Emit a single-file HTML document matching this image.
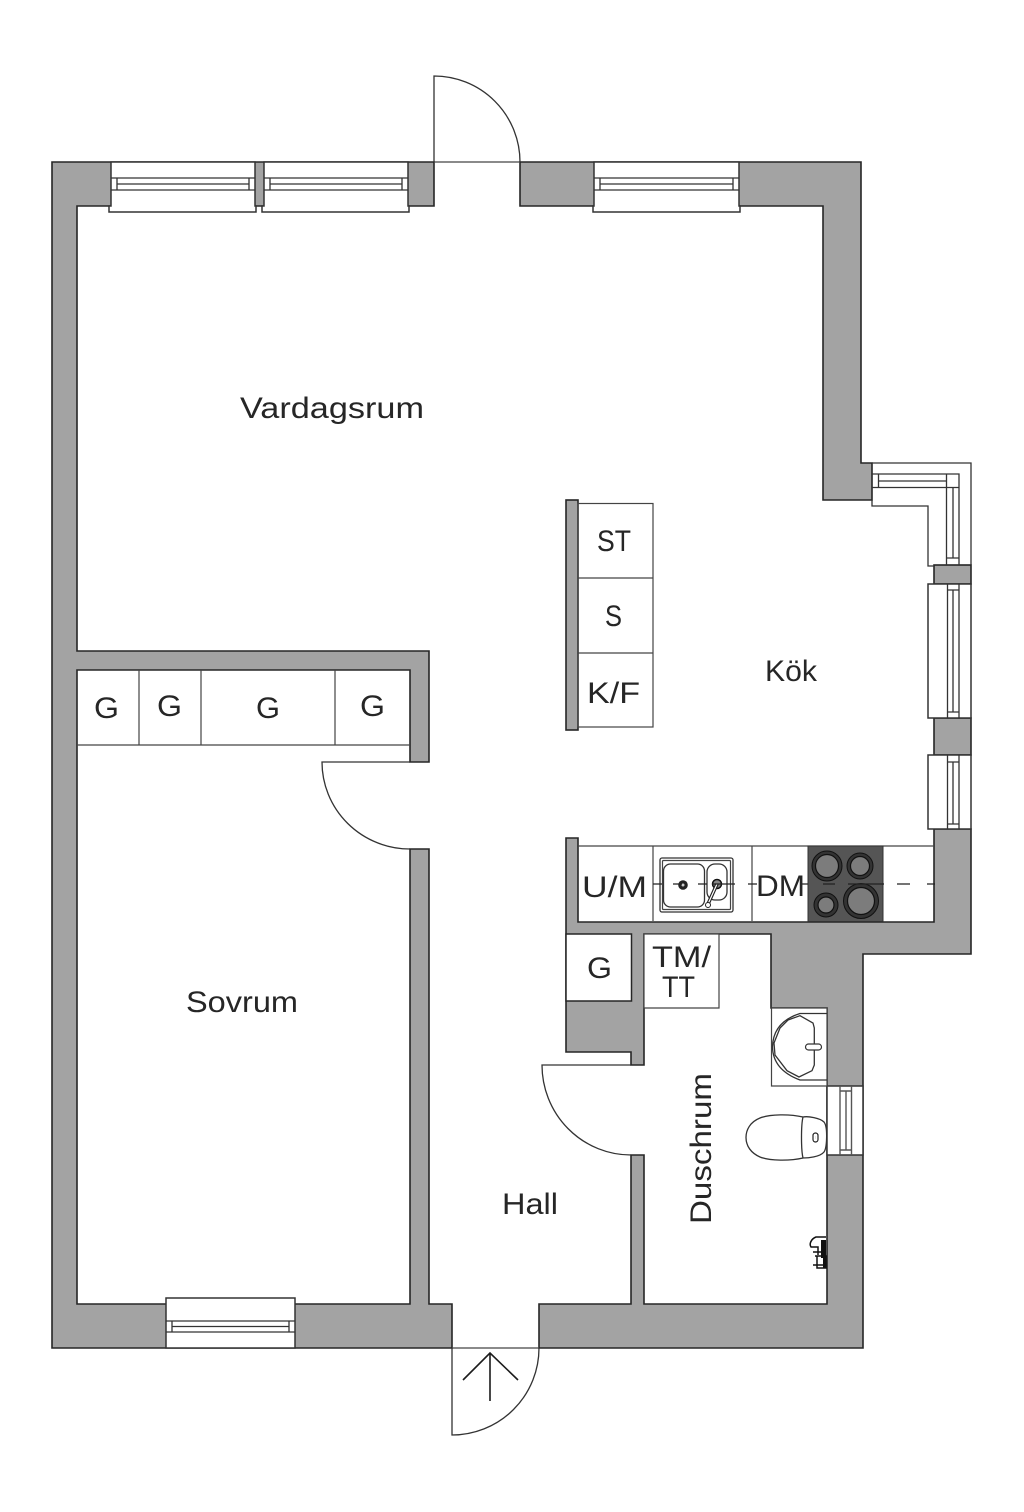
<!DOCTYPE html>
<html><head><meta charset="utf-8"><style>
html,body{margin:0;padding:0;background:#fff}
svg{display:block}
text{font-family:"Liberation Sans",sans-serif;font-size:30px;fill:#262626}
.w{fill:#a3a3a3;stroke:#262626;stroke-width:1.6;stroke-linejoin:miter}
.f{fill:#fff;stroke:#333;stroke-width:1.5}
.t{fill:none;stroke:#444;stroke-width:1.2}
.g{fill:none;stroke:#555;stroke-width:1.4}
.d{fill:none;stroke:#333;stroke-width:1.3}
.b{fill:#7c7c7c;stroke:#111;stroke-width:1.2}
.r{fill:none;stroke:#111;stroke-width:1}
</style></head><body>
<svg width="1024" height="1512" viewBox="0 0 1024 1512" xmlns="http://www.w3.org/2000/svg">
<rect width="1024" height="1512" fill="#fff"/>
<!-- walls -->
<path class="w" d="M520 162H861V463H872V500H823V206H520Z"/>
<path class="w" d="M434 162H52V1348H452V1304H429V849H410V1304H77V670H410V762H429V651H77V206H434Z"/>
<path class="w" d="M539 1348H863V954H971V829H934V922H578V838H566V1052H631V1065H644V934H771V1008H827V1304H644V1155H631V1304H539Z"/>
<rect class="w" x="934" y="565" width="37" height="19"/>
<rect class="w" x="934" y="718" width="37" height="37"/>
<rect class="w" x="566" y="500" width="12" height="230"/>
<!-- top windows -->
<path class="f" d="M111 162H255V206H256V212H109V206H111Z"/>
<path class="f" d="M264 162H408V206H409V212H262V206H264Z"/>
<path class="f" d="M594 162H739V206H740V212H593V206H594Z"/>
<path class="d" d="M111 178H255M117 184H249M111 190H255M117 178V190M249 178V190"/>
<path class="d" d="M264 178H408M270 184H402M264 190H408M270 178V190M402 178V190"/>
<path class="d" d="M594 178H739M600 184H733M594 190H739M600 178V190M733 178V190"/>
<!-- bottom window -->
<path class="f" d="M166 1348V1298H295V1348Z"/>
<path class="d" d="M166 1321H295M172 1326.500H289M166 1332H295M172 1321V1332M289 1321V1332"/>
<!-- bay window -->
<path class="d" d="M872 463H971V565M872 500V506H928V566H934"/>
<path class="d" d="M872 474H959V565M878.500 481H946.500M872 487.500H946.500V565M953 487.500V558M946.500 558H959M878.500 474V487.500M946.500 474V487.500M946.500 487.500H959"/>
<!-- right windows -->
<path class="f" d="M934 584H928V718H934H971V584Z"/>
<path class="f" d="M934 755H928V829H934H971V755Z"/>
<path class="d" d="M947.500 584V718M953 590V712M959 584V718M947.500 590H959M947.500 712H959"/>
<path class="d" d="M947.500 755V829M953 762V824M959 755V829M947.500 762H959M947.500 824H959"/>
<!-- shower room window -->
<rect class="f" x="827" y="1086" width="36" height="69"/>
<path class="g" d="M840 1086V1155M846 1091V1150M851.500 1086V1155M840 1091H851.500M840 1150H851.500"/>
<!-- door gaps thin lines -->
<path class="t" d="M434 162H520M452 1348H539"/>
<!-- doors -->
<path class="d" d="M434 162V76A86 86 0 0 1 520 162"/>
<path class="d" d="M452 1348V1435A87 87 0 0 0 539 1348"/>
<path class="d" d="M410 762H322A88 87 0 0 0 410 849"/>
<path class="d" d="M631 1065H542A89 90 0 0 0 631 1155"/>
<!-- entrance arrow -->
<path fill="none" stroke="#1c1c1c" stroke-width="1.600" d="M490 1401V1353M463 1380L490 1353L518 1380"/>
<!-- closets -->
<path class="t" d="M77 745H410M139 670V745M201 670V745M335 670V745"/>
<rect class="t" x="578" y="503.500" width="75" height="223.500"/>
<path class="t" d="M578 578H653M578 653H653"/>
<!-- kitchen counter -->
<path class="t" d="M578 846H934M653 846V921M752 846V921"/>
<rect x="808" y="846" width="75" height="75.500" fill="#555" stroke="#333"/>
<circle fill="#333" stroke="#111" cx="827" cy="866" r="15"/><circle class="b" cx="827" cy="866" r="11.500"/>
<circle fill="#333" stroke="#111" cx="860" cy="866" r="13"/><circle class="b" cx="860" cy="866" r="9.500"/>
<circle fill="#333" stroke="#111" cx="826" cy="905" r="12"/><circle class="b" cx="826" cy="905" r="8"/>
<circle fill="#333" stroke="#111" cx="861" cy="901" r="17.500"/><circle class="b" cx="861" cy="901" r="13.500"/>
<!-- sink -->
<rect class="d" x="660" y="858" width="73" height="54" rx="2"/>
<rect class="t" x="662.500" y="860.500" width="68" height="49" rx="1"/>
<rect class="d" x="663.500" y="864" width="41" height="43" rx="7"/>
<rect class="d" x="707" y="864" width="20" height="36" rx="8"/>
<circle cx="683" cy="885" r="4.800" fill="#222"/><circle cx="683" cy="885" r="1.500" fill="#ccc"/>
<circle cx="717" cy="884" r="4.500" fill="#888" stroke="#111" stroke-width="1.500"/>
<path d="M717 884L708 904" stroke="#222" stroke-width="3.500"/><path d="M717 884L708 904" stroke="#fff" stroke-width="1.200"/>
<circle cx="708" cy="905" r="2.500" fill="#fff" stroke="#222"/>
<!-- dashed -->
<path fill="none" stroke="#222" stroke-width="1.200" d="M653 884H662M673 884H682M698 884H707M712 884H735M748 884H757M800 884H808M823 884H835M848 884H884M897 884H910M927 884H935"/>
<!-- G / TM boxes -->
<rect x="566" y="934" width="65.500" height="67" fill="#fff" stroke="#262626" stroke-width="1.500"/>
<path fill="#fff" stroke="#444" stroke-width="1.200" d="M644 934H719V1008H644Z"/>
<!-- basin -->
<path fill="#fff" stroke="#444" stroke-width="1.200" d="M771.500 1008H827V1086H771.500Z"/>
<path class="d" d="M827 1013.500H800Q773 1022 772.500 1047Q773 1070 800 1080H827"/>
<path class="d" d="M800 1015.700L813 1023L814.300 1028V1065L812 1070.700L799 1077L787 1070.700L775 1055L774 1043L780 1028L788 1020Z"/>
<rect x="805.500" y="1044" width="16" height="6" rx="3" fill="#fff" stroke="#333" stroke-width="1.200"/>
<!-- toilet -->
<path class="d" d="M803 1117C790 1114 770 1114 760 1118C750 1122 746 1130 746 1137.500C746 1146 751 1153 760 1157C770 1161 790 1161 803 1158"/>
<path class="d" d="M803 1117C808 1116 820 1118 824 1122C828 1127 827 1148 824 1152C820 1157 808 1158 803 1158C801 1150 801 1125 803 1117Z" style="fill:#fff"/>
<rect x="813" y="1133" width="5" height="9" rx="2.500" fill="#fff" stroke="#222" stroke-width="1.200"/>
<path d="M815.500 1137.500h0.100" stroke="#222" stroke-width="3"/>
<!-- shower tap -->
<path fill="none" stroke="#111" stroke-width="1.500" d="M826 1237H816C811 1239 809 1244 811 1247H818V1255M813 1252H826M815 1256H826V1268H817V1256M813 1265H825"/>
<path fill="#111" d="M821 1240h5v28h-3v-10h-2z"/>
<!-- labels -->
<text x="240" y="418" textLength="184" lengthAdjust="spacingAndGlyphs">Vardagsrum</text>
<text x="765" y="681" textLength="52" lengthAdjust="spacingAndGlyphs">Kök</text>
<text x="186" y="1012" textLength="112" lengthAdjust="spacingAndGlyphs">Sovrum</text>
<text x="502" y="1214" textLength="56" lengthAdjust="spacingAndGlyphs">Hall</text>
<text transform="translate(711,1224) rotate(-90)" textLength="151" lengthAdjust="spacingAndGlyphs">Duschrum</text>
<text x="597" y="551" textLength="34" lengthAdjust="spacingAndGlyphs">ST</text>
<text x="605" y="626" textLength="17" lengthAdjust="spacingAndGlyphs">S</text>
<text x="587" y="703" textLength="53" lengthAdjust="spacingAndGlyphs">K/F</text>
<text x="582" y="897" textLength="65" lengthAdjust="spacingAndGlyphs">U/M</text>
<text x="756" y="896" textLength="49" lengthAdjust="spacingAndGlyphs">DM</text>
<text x="94" y="718" textLength="25" lengthAdjust="spacingAndGlyphs">G</text>
<text x="157" y="716" textLength="25" lengthAdjust="spacingAndGlyphs">G</text>
<text x="256" y="718" textLength="24" lengthAdjust="spacingAndGlyphs">G</text>
<text x="360" y="716" textLength="25" lengthAdjust="spacingAndGlyphs">G</text>
<text x="587" y="978" textLength="25" lengthAdjust="spacingAndGlyphs">G</text>
<text x="652" y="967" textLength="59" lengthAdjust="spacingAndGlyphs">TM/</text>
<text x="662" y="997" textLength="33" lengthAdjust="spacingAndGlyphs">TT</text>
</svg>
</body></html>
